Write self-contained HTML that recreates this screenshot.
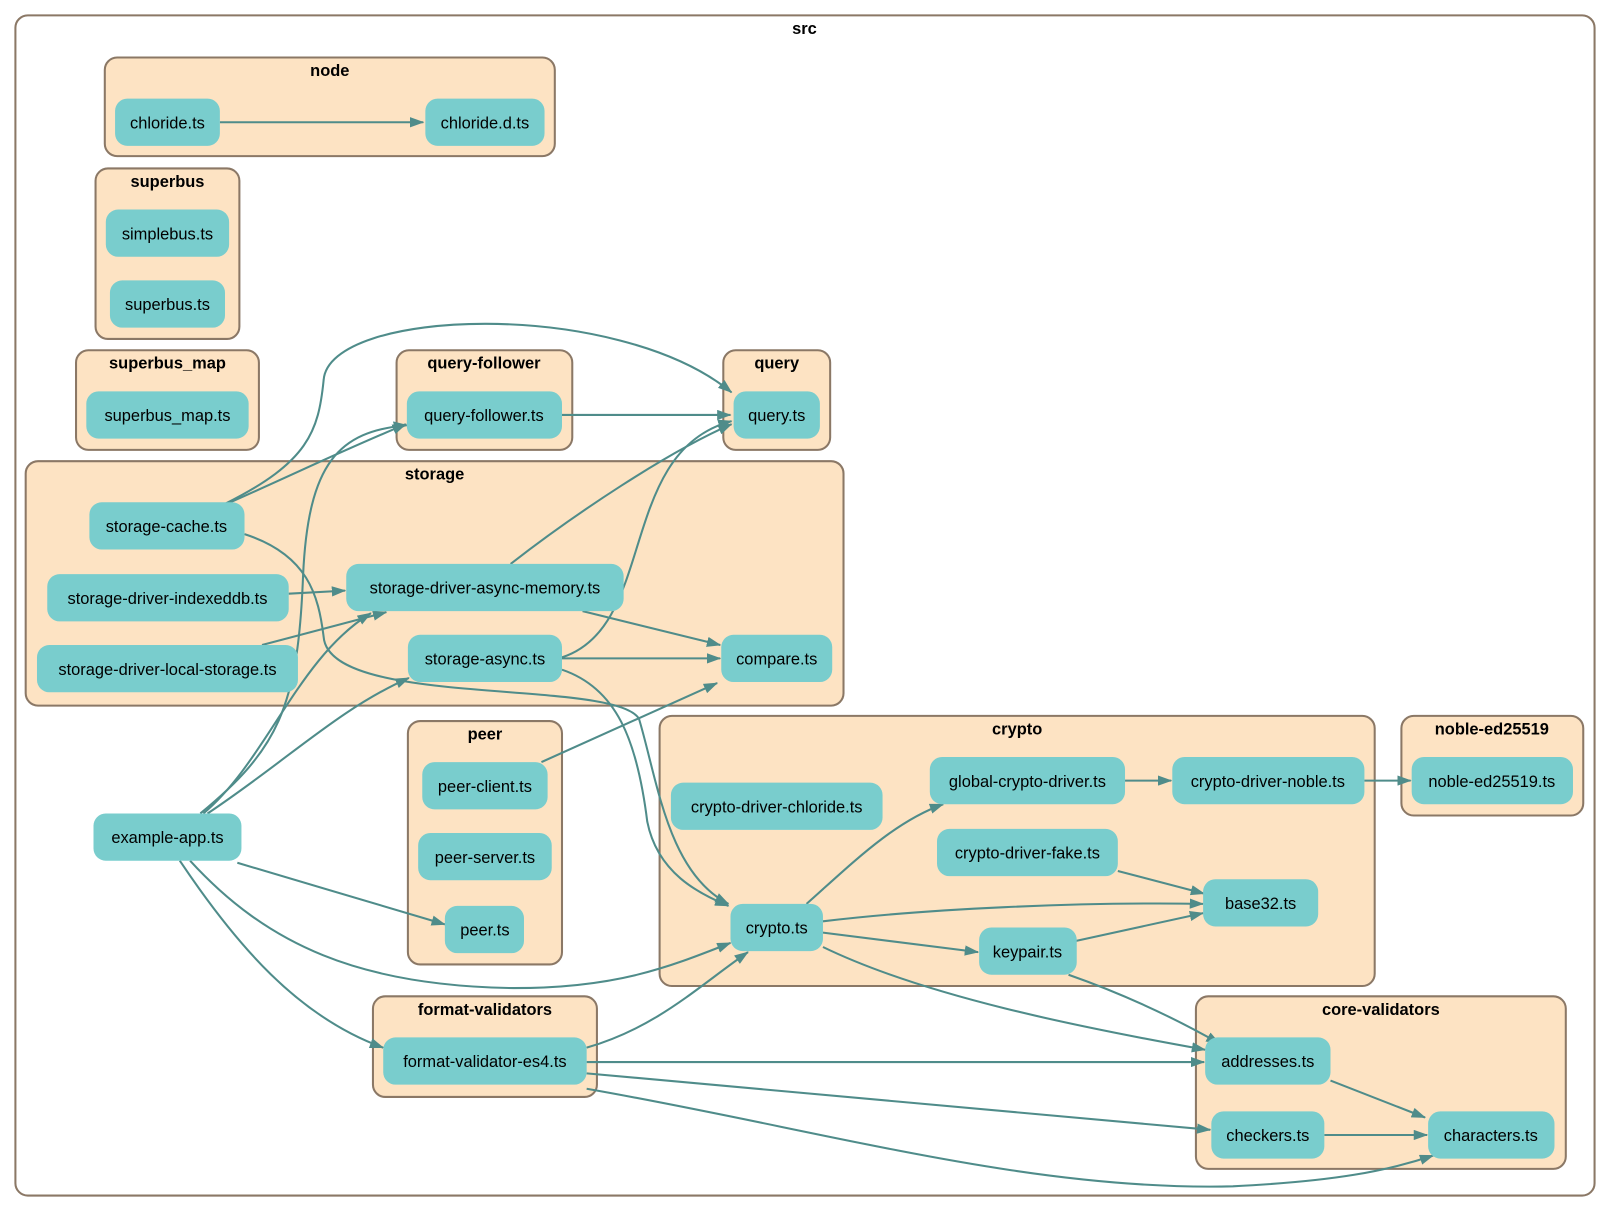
<!DOCTYPE html>
<html><head><meta charset="utf-8"><style>html,body{margin:0;padding:0;background:#fff}svg{display:block}</style></head><body>
<svg width="1611" height="1212" viewBox="0 0 1568 1180" preserveAspectRatio="none" xmlns="http://www.w3.org/2000/svg" font-family="Liberation Sans, Arial, sans-serif">
<defs><marker id="a" markerWidth="14" markerHeight="10" refX="13" refY="5" orient="auto" markerUnits="userSpaceOnUse"><path d="M0,0 L14,5 L0,10 z" fill="#4f8c8a"/></marker></defs>
<rect x="15" y="15" width="1537" height="1149" rx="12" fill="#fff" stroke="#8b7866" stroke-width="2"/>
<text x="783" y="33" font-size="16" font-weight="bold" text-anchor="middle">src</text>
<g fill="#fde3c3" stroke="#8b7866" stroke-width="2">
<rect x="102" y="56" width="438" height="96" rx="12"/>
<rect x="93" y="164" width="140" height="166" rx="12"/>
<rect x="74" y="341" width="178" height="97" rx="12"/>
<rect x="386" y="341" width="171" height="97" rx="12"/>
<rect x="704" y="341" width="104" height="97" rx="12"/>
<rect x="25" y="449" width="796" height="238" rx="12"/>
<rect x="397" y="702" width="150" height="237" rx="12"/>
<rect x="642" y="697" width="696" height="263" rx="12"/>
<rect x="1364" y="697" width="177" height="97" rx="12"/>
<rect x="1164" y="970" width="360" height="168" rx="12"/>
<rect x="363" y="970" width="218" height="98" rx="12"/>
</g>
<g font-size="16" font-weight="bold" text-anchor="middle">
<text x="321" y="74">node</text><text x="163" y="182">superbus</text><text x="163" y="359">superbus_map</text>
<text x="471" y="359">query-follower</text><text x="756" y="359">query</text><text x="423" y="467">storage</text>
<text x="472" y="720">peer</text><text x="990" y="715">crypto</text><text x="1452" y="715">noble-ed25519</text>
<text x="1344" y="988">core-validators</text><text x="472" y="988">format-validators</text>
</g>
<g fill="none" stroke="#4f8c8a" stroke-width="2" marker-end="url(#a)">
<path d="M214,119 L412,119"/>
<path d="M547,404 L711,404"/>
<path d="M220,490 C300,450 310,420 315,370 C320,300 600,290 712,382"/>
<path d="M222,490 C290,460 330,440 395,413"/>
<path d="M238,520 C300,540 310,580 315,620 C320,690 600,660 622,700 C640,760 650,850 709,880"/>
<path d="M547,652 C600,670 620,720 630,800 C640,850 680,870 709,882"/>
<path d="M497,549 C560,500 650,440 712,413"/>
<path d="M547,640 C640,610 600,440 712,410"/>
<path d="M547,641 L701,641"/>
<path d="M567,595 L701,628"/>
<path d="M281,578 L336,575"/>
<path d="M255,628 L376,596"/>
<path d="M527,742 L698,665"/>
<path d="M195,792 C270,730 290,690 295,560 C300,450 330,420 396,414"/>
<path d="M198,792 C260,740 290,640 361,597"/>
<path d="M202,792 C280,740 330,690 398,660"/>
<path d="M231,840 L433,900"/>
<path d="M185,838 C260,920 350,960 500,962 C600,962 650,942 711,918"/>
<path d="M175,838 C230,920 290,990 373,1020"/>
<path d="M785,880 C830,840 870,800 918,783"/>
<path d="M1095,760 L1140,760"/>
<path d="M1328,760 L1373,760"/>
<path d="M1088,848 L1172,870"/>
<path d="M801,897 C900,885 1050,878 1171,880"/>
<path d="M801,908 L952,927"/>
<path d="M1043,917 L1171,889"/>
<path d="M1040,949 C1100,970 1150,995 1187,1016"/>
<path d="M801,922 C900,970 1050,1000 1173,1022"/>
<path d="M571,1020 C640,1000 680,960 728,927"/>
<path d="M571,1034 L1172,1034"/>
<path d="M571,1045 L1178,1100"/>
<path d="M571,1060 C800,1100 1000,1160 1200,1155 C1300,1150 1350,1140 1395,1125"/>
<path d="M1295,1052 L1387,1088"/>
<path d="M1289,1105 L1389,1105"/>
</g>
<g fill="#79cdcd">
<rect x="112" y="96" width="102" height="46" rx="12"/>
<rect x="414" y="96" width="116" height="46" rx="12"/>
<rect x="103" y="204" width="120" height="46" rx="12"/>
<rect x="107" y="273" width="112" height="46" rx="12"/>
<rect x="84" y="381" width="158" height="46" rx="12"/>
<rect x="396" y="381" width="151" height="46" rx="12"/>
<rect x="714" y="381" width="84" height="46" rx="12"/>
<rect x="87" y="489" width="151" height="46" rx="12"/>
<rect x="46" y="559" width="235" height="46" rx="12"/>
<rect x="337" y="549" width="270" height="46" rx="12"/>
<rect x="36" y="628" width="254" height="46" rx="12"/>
<rect x="397" y="618" width="150" height="46" rx="12"/>
<rect x="702" y="618" width="108" height="46" rx="12"/>
<rect x="411" y="742" width="122" height="46" rx="12"/>
<rect x="407" y="811" width="130" height="46" rx="12"/>
<rect x="433" y="882" width="77" height="46" rx="12"/>
<rect x="653" y="762" width="206" height="46" rx="12"/>
<rect x="905" y="737" width="190" height="46" rx="12"/>
<rect x="1141" y="737" width="187" height="46" rx="12"/>
<rect x="912" y="807" width="176" height="46" rx="12"/>
<rect x="1171" y="856" width="112" height="46" rx="12"/>
<rect x="711" y="880" width="90" height="46" rx="12"/>
<rect x="953" y="903" width="95" height="46" rx="12"/>
<rect x="1374" y="737" width="157" height="46" rx="12"/>
<rect x="1173" y="1010" width="122" height="46" rx="12"/>
<rect x="1179" y="1082" width="110" height="46" rx="12"/>
<rect x="1390" y="1082" width="123" height="46" rx="12"/>
<rect x="373" y="1010" width="198" height="46" rx="12"/>
<rect x="91" y="792" width="144" height="46" rx="12"/>
</g>
<g font-size="16" text-anchor="middle" fill="#000">
<text x="163" y="125">chloride.ts</text><text x="472" y="125">chloride.d.ts</text>
<text x="163" y="233">simplebus.ts</text><text x="163" y="302">superbus.ts</text>
<text x="163" y="410">superbus_map.ts</text><text x="471" y="410">query-follower.ts</text><text x="756" y="410">query.ts</text>
<text x="162" y="518">storage-cache.ts</text><text x="163" y="588">storage-driver-indexeddb.ts</text>
<text x="472" y="578">storage-driver-async-memory.ts</text><text x="163" y="657">storage-driver-local-storage.ts</text>
<text x="472" y="647">storage-async.ts</text><text x="756" y="647">compare.ts</text>
<text x="472" y="771">peer-client.ts</text><text x="472" y="840">peer-server.ts</text><text x="472" y="911">peer.ts</text>
<text x="756" y="791">crypto-driver-chloride.ts</text><text x="1000" y="766">global-crypto-driver.ts</text>
<text x="1234" y="766">crypto-driver-noble.ts</text><text x="1000" y="836">crypto-driver-fake.ts</text>
<text x="1227" y="885">base32.ts</text><text x="756" y="909">crypto.ts</text><text x="1000" y="932">keypair.ts</text>
<text x="1452" y="766">noble-ed25519.ts</text><text x="1234" y="1039">addresses.ts</text>
<text x="1234" y="1111">checkers.ts</text><text x="1451" y="1111">characters.ts</text>
<text x="472" y="1039">format-validator-es4.ts</text><text x="163" y="821">example-app.ts</text>
</g>
</svg>
</body></html>
